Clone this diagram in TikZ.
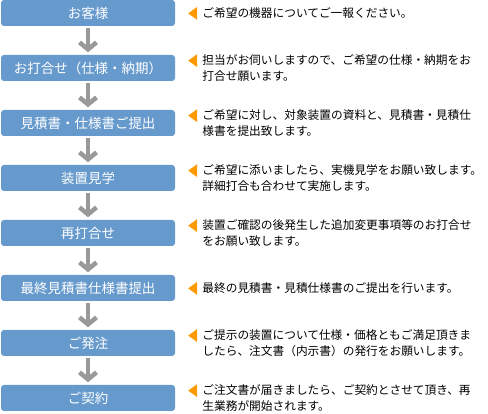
\documentclass[tikz,border=0pt]{standalone}
\usepackage{fontspec}
\newfontfamily\jpfont{Noto Sans CJK JP}
\definecolor{stageblue}{RGB}{102,153,204}
\definecolor{flowgray}{RGB}{153,153,153}
\definecolor{pointorange}{RGB}{255,153,0}
\usetikzlibrary{arrows.meta,positioning,calc}

\begin{document}
\begin{tikzpicture}[x=1pt,y=1pt,node distance=28.6pt and 27pt,
  stage/.style={rounded corners=3pt,fill=stageblue,text=white,minimum width=174pt,minimum height=26pt,inner sep=0pt,font=\jpfont\fontsize{13.5}{15}\selectfont},
  note/.style={right=of #1,align=left,inner sep=0pt,font=\jpfont\fontsize{11.7}{15.5}\selectfont},
  tipmark/.style={fill=pointorange},
  flow/.style={draw=flowgray,line width=4.5pt,-{Straight Barb[length=7pt,width=17pt]},shorten <=1.5pt,shorten >=2.5pt}]
\useasboundingbox (0,0) rectangle (488,-414);
% stages
\node[stage] (s1) at (88,-13) {お客様};
\node[stage,below=of s1] (s2) {お打合せ（仕様・納期）};
\node[stage,below=of s2] (s3) {見積書・仕様書ご提出};
\node[stage,below=of s3] (s4) {装置見学};
\node[stage,below=of s4] (s5) {再打合せ};
\node[stage,below=of s5] (s6) {最終見積書仕様書提出};
\node[stage,below=of s6] (s7) {ご発注};
\node[stage,below=of s7] (s8) {ご契約};
% notes
\node[note=s1] (n1) {ご希望の機器についてご一報ください。};
\node[note=s2] (n2) {担当がお伺いしますので、ご希望の仕様・納期をお\\打合せ願います。};
\node[note=s3] (n3) {ご希望に対し、対象装置の資料と、見積書・見積仕\\様書を提出致します。};
\node[note=s4] (n4) {ご希望に添いましたら、実機見学をお願い致します。\\詳細打合も合わせて実施します。};
\node[note=s5] (n5) {装置ご確認の後発生した追加変更事項等のお打合せ\\をお願い致します。};
\node[note=s6] (n6) {最終の見積書・見積仕様書のご提出を行います。};
\node[note=s7] (n7) {ご提示の装置について仕様・価格ともご満足頂きま\\したら、注文書（内示書）の発行をお願いします。};
\node[note=s8] (n8) {ご注文書が届きましたら、ご契約とさせて頂き、再\\生業務が開始されます。};
% orange pointers
\fill[tipmark] ($(n1.north west)+(-14,-6)$) -- ++(9,6.5) -- ++(0,-13) -- cycle;
\fill[tipmark] ($(n2.north west)+(-14,-6)$) -- ++(9,6.5) -- ++(0,-13) -- cycle;
\fill[tipmark] ($(n3.north west)+(-14,-6)$) -- ++(9,6.5) -- ++(0,-13) -- cycle;
\fill[tipmark] ($(n4.north west)+(-14,-6)$) -- ++(9,6.5) -- ++(0,-13) -- cycle;
\fill[tipmark] ($(n5.north west)+(-14,-6)$) -- ++(9,6.5) -- ++(0,-13) -- cycle;
\fill[tipmark] ($(n6.north west)+(-14,-6)$) -- ++(9,6.5) -- ++(0,-13) -- cycle;
\fill[tipmark] ($(n7.north west)+(-14,-6)$) -- ++(9,6.5) -- ++(0,-13) -- cycle;
\fill[tipmark] ($(n8.north west)+(-14,-6)$) -- ++(9,6.5) -- ++(0,-13) -- cycle;
% arrows
\draw[flow] (s1)--(s2);
\draw[flow] (s2)--(s3);
\draw[flow] (s3)--(s4);
\draw[flow] (s4)--(s5);
\draw[flow] (s5)--(s6);
\draw[flow] (s6)--(s7);
\draw[flow] (s7)--(s8);
\end{tikzpicture}
\end{document}
